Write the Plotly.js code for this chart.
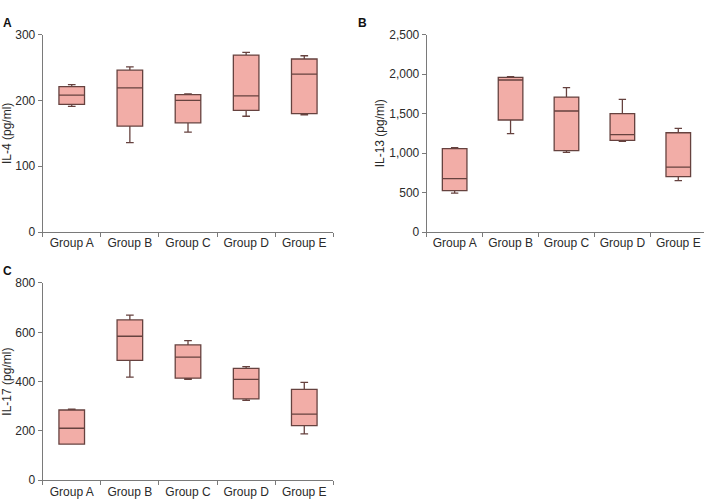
<!DOCTYPE html>
<html>
<head>
<meta charset="utf-8">
<script src="https://cdn.plot.ly/plotly-3.0.1.min.js"></script>
<style>html,body{margin:0;padding:0;background:#fff;}#chart{width:704px;height:499px;}</style>
</head>
<body>
<div id="chart"></div>
<script>
// Categories
const groups = ["Group A", "Group B", "Group C", "Group D", "Group E"];

// Panel A: IL-4 (pg/ml)
const il4Lower  = [191, 136, 152, 176, 178];
const il4Q1     = [194, 161, 166, 185, 180];
const il4Median = [208, 219, 200, 207, 240];
const il4Q3     = [221, 246, 209, 269, 263];
const il4Upper  = [224, 251, 210, 273, 268];

// Panel B: IL-13 (pg/ml)
const il13Lower  = [494, 1246, 1009, 1149, 650];
const il13Q1     = [524, 1419, 1030, 1161, 701];
const il13Median = [676, 1926, 1533, 1233, 823];
const il13Q3     = [1056, 1960, 1710, 1499, 1258];
const il13Upper  = [1068, 1968, 1829, 1681, 1313];

// Panel C: IL-17 (pg/ml)
const il17Lower  = [147, 418, 409, 324, 188];
const il17Q1     = [147, 486, 414, 330, 222];
const il17Median = [211, 584, 499, 409, 268];
const il17Q3     = [285, 650, 549, 454, 369];
const il17Upper  = [288, 670, 566, 461, 397];

const yTicksA = [0, 100, 200, 300];
const yTicksB = [0, 500, 1000, 1500, 2000, 2500];
const yTickTextB = ["0", "500", "1,000", "1,500", "2,000", "2,500"];
const yTicksC = [0, 200, 400, 600, 800];

const fillCol = "#f2ada7";
const lineCol = "#66423f";

function boxTrace(lower, q1, med, q3, upper, xa, ya) {
  return {
    type: "box",
    x: groups,
    lowerfence: lower, q1: q1, median: med, q3: q3, upperfence: upper,
    xaxis: xa, yaxis: ya,
    fillcolor: fillCol,
    line: {color: lineCol, width: 1.3},
    whiskerwidth: 0.3,
    width: 0.44,
    boxpoints: false,
    hoverinfo: "skip",
    showlegend: false
  };
}

const data = [
  boxTrace(il4Lower, il4Q1, il4Median, il4Q3, il4Upper, "x", "y"),
  boxTrace(il13Lower, il13Q1, il13Median, il13Q3, il13Upper, "x2", "y2"),
  boxTrace(il17Lower, il17Q1, il17Median, il17Q3, il17Upper, "x3", "y3")
];

const font = {family: "Liberation Sans, Arial, sans-serif", size: 12, color: "#2a2a2a"};

function xAx(domain, anchor, range) {
  return {
    domain: domain, anchor: anchor, type: "category",
    categoryorder: "array", categoryarray: groups,
    range: range,
    showline: true, linecolor: "#7a7a7a", linewidth: 1,
    ticks: "outside", ticklen: 4, tickcolor: "#7a7a7a", tickson: "boundaries",
    showgrid: false, zeroline: false,
    tickfont: font, fixedrange: true
  };
}
function yAx(domain, anchor, range, tv, tt, title) {
  return {
    domain: domain, anchor: anchor, range: range,
    tickmode: "array", tickvals: tv, ticktext: tt,
    showline: true, linecolor: "#7a7a7a", linewidth: 1,
    ticks: "outside", ticklen: 4, tickcolor: "#7a7a7a",
    showgrid: false, zeroline: false,
    tickfont: font, fixedrange: true,
    title: {text: title, font: font, standoff: 2}
  };
}

const letterFont = {family: "Liberation Sans, Arial, sans-serif", size: 12, color: "#111"};

const layout = {
  width: 704, height: 499,
  margin: {l: 0, r: 0, t: 0, b: 0},
  paper_bgcolor: "#fff", plot_bgcolor: "#fff",
  font: font,
  xaxis: xAx([0.0606, 0.4735], "y", [-0.5, 4.5]),
  yaxis: yAx([0.535, 0.9305], "x", [0, 300], yTicksA, yTicksA.map(String), "IL-4 (pg/ml)"),
  xaxis2: xAx([0.6061, 1.0], "y2", [-0.5, 4.46]),
  yaxis2: yAx([0.535, 0.9305], "x2", [0, 2500], yTicksB, yTickTextB, "IL-13 (pg/ml)"),
  xaxis3: xAx([0.0606, 0.4735], "y3", [-0.5, 4.5]),
  yaxis3: yAx([0.0375, 0.4329], "x3", [0, 800], yTicksC, yTicksC.map(String), "IL-17 (pg/ml)"),
  annotations: [
    {text: "<b>A</b>", xref: "paper", yref: "paper", x: 0.001, y: 0.953, xanchor: "left", yanchor: "middle", showarrow: false, font: letterFont},
    {text: "<b>B</b>", xref: "paper", yref: "paper", x: 0.506, y: 0.953, xanchor: "left", yanchor: "middle", showarrow: false, font: letterFont},
    {text: "<b>C</b>", xref: "paper", yref: "paper", x: 0.001, y: 0.456, xanchor: "left", yanchor: "middle", showarrow: false, font: letterFont}
  ]
};

Plotly.newPlot("chart", data, layout, {displayModeBar: false, staticPlot: true});
</script>
</body>
</html>
